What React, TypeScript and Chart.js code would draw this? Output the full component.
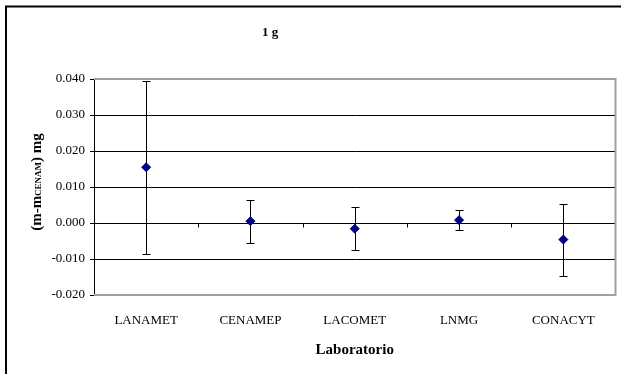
import React, { useEffect, useRef } from "react";
import { Chart, registerables } from "chart.js";

Chart.register(...registerables);

const categories = ["LANAMET", "CENAMEP", "LACOMET", "LNMG", "CONACYT"];
const values = [0.0155, 0.0005, -0.0016, 0.0008, -0.0046];
const errors = [0.024, 0.006, 0.006, 0.0028, 0.01];
const yMin = -0.02;
const yMax = 0.04;
const yStep = 0.01;
const chartTitle = "1 g";
const xTitle = "Laboratorio";
const yTitleParts = ["(m-m", "CENAM", ") mg"];

const FONT = "'Liberation Serif', 'Times New Roman', serif";

const decor = {
  id: "decor",
  beforeDraw(chart: any) {
    const ctx = chart.ctx;
    ctx.save();
    ctx.fillStyle = "#ffffff";
    ctx.fillRect(0, 0, chart.width, chart.height);
    ctx.restore();
  },
  beforeDatasetsDraw(chart: any) {
    const ctx = chart.ctx;
    const { left, right, top, bottom } = chart.chartArea;
    const xs = chart.scales.x;
    const ys = chart.scales.y;
    ctx.save();
    // plot border (top, right, bottom)
    ctx.strokeStyle = "#a0a0a0";
    ctx.lineWidth = 2;
    ctx.beginPath();
    ctx.moveTo(left, top);
    ctx.lineTo(right, top);
    ctx.lineTo(right, bottom);
    ctx.lineTo(left, bottom);
    ctx.stroke();
    // category ticks on zero line
    const y0 = Math.round(ys.getPixelForValue(0)) + 0.5;
    ctx.strokeStyle = "#000";
    ctx.lineWidth = 1;
    for (let i = 0; i < categories.length - 1; i++) {
      const xb = Math.round((xs.getPixelForValue(i) + xs.getPixelForValue(i + 1)) / 2) + 0.5;
      ctx.beginPath();
      ctx.moveTo(xb, y0);
      ctx.lineTo(xb, y0 + 4);
      ctx.stroke();
    }
    // error bars
    ctx.strokeStyle = "#000";
    ctx.lineWidth = 1;
    for (let i = 0; i < values.length; i++) {
      const x = Math.round(xs.getPixelForValue(i)) + 0.5;
      const yHi = Math.round(ys.getPixelForValue(values[i] + errors[i])) + 0.5;
      const yLo = Math.round(ys.getPixelForValue(values[i] - errors[i])) + 0.5;
      ctx.beginPath();
      ctx.moveTo(x, yHi);
      ctx.lineTo(x, yLo);
      ctx.moveTo(x - 4, yHi);
      ctx.lineTo(x + 4, yHi);
      ctx.moveTo(x - 4, yLo);
      ctx.lineTo(x + 4, yLo);
      ctx.stroke();
    }
    ctx.restore();
  },
  afterDraw(chart: any) {
    const ctx = chart.ctx;
    const { top, bottom } = chart.chartArea;
    ctx.save();
    // outer chart border
    ctx.strokeStyle = "#000";
    ctx.lineWidth = 2;
    ctx.strokeRect(6, 6.5, 2000, 2000);
    // chart title
    ctx.fillStyle = "#000";
    ctx.font = `bold 13px ${FONT}`;
    ctx.textAlign = "center";
    ctx.textBaseline = "middle";
    ctx.fillText(chartTitle, 270, 33);
    // y title (rotated, with small CENAM)
    const big = `bold 15px ${FONT}`;
    const small = `bold 9px ${FONT}`;
    ctx.font = big;
    const w0 = ctx.measureText(yTitleParts[0]).width;
    const w2 = ctx.measureText(yTitleParts[2]).width;
    ctx.font = small;
    const w1 = ctx.measureText(yTitleParts[1]).width;
    const total = w0 + w1 + w2;
    ctx.translate(41, (top + bottom) / 2 - 5);
    ctx.rotate(-Math.PI / 2);
    ctx.textAlign = "left";
    ctx.textBaseline = "alphabetic";
    let cx = -total / 2;
    ctx.font = big;
    ctx.fillText(yTitleParts[0], cx, 0);
    cx += w0;
    ctx.font = small;
    ctx.fillText(yTitleParts[1], cx, 0);
    cx += w1;
    ctx.font = big;
    ctx.fillText(yTitleParts[2], cx, 0);
    ctx.restore();
  },
};

export default function App() {
  const ref = useRef<HTMLCanvasElement | null>(null);
  useEffect(() => {
    if (!ref.current) return;
    const chart = new Chart(ref.current, {
      type: "line",
      data: {
        labels: categories,
        datasets: [
          {
            data: values,
            showLine: false,
            pointStyle: "rectRot",
            pointRadius: 4.5,
            pointBackgroundColor: "#000080",
            pointBorderColor: "#000080",
            pointBorderWidth: 1,
          },
        ],
      },
      options: {
        responsive: false,
        devicePixelRatio: 1,
        animation: false,
        events: [],
        layout: { padding: { left: 0, top: 79, right: 4, bottom: 0 } },
        plugins: {
          legend: { display: false },
          title: { display: false },
          tooltip: { enabled: false },
        },
        scales: {
          x: {
            type: "category",
            offset: true,
            grid: { display: false, drawTicks: false },
            border: { display: false },
            ticks: {
              color: "#000",
              font: { family: FONT, size: 13 },
              padding: 18,
              maxRotation: 0,
              autoSkip: false,
            },
            title: {
              display: true,
              text: xTitle,
              color: "#000",
              font: { family: FONT, size: 15, weight: "bold" },
              padding: { top: 0, bottom: 15 },
            },
            afterFit: (s: any) => {
              s.height = 79;
            },
          },
          y: {
            min: yMin,
            max: yMax,
            grid: { color: "#000", lineWidth: 1, drawTicks: true, tickLength: 4 },
            border: { display: true, color: "#000", width: 1 },
            ticks: {
              stepSize: yStep,
              color: "#000",
              font: { family: FONT, size: 13 },
              padding: 5,
              callback: (v: any) => Number(v).toFixed(3),
            },
            afterFit: (s: any) => {
              s.width = 94;
            },
          },
        },
      },
      plugins: [decor],
    });
    return () => chart.destroy();
  }, []);
  return (
    <div style={{ position: "fixed", left: 0, top: 0, width: 621, height: 374, background: "#fff" }}>
      <canvas ref={ref} width={621} height={374} style={{ display: "block" }} />
    </div>
  );
}
